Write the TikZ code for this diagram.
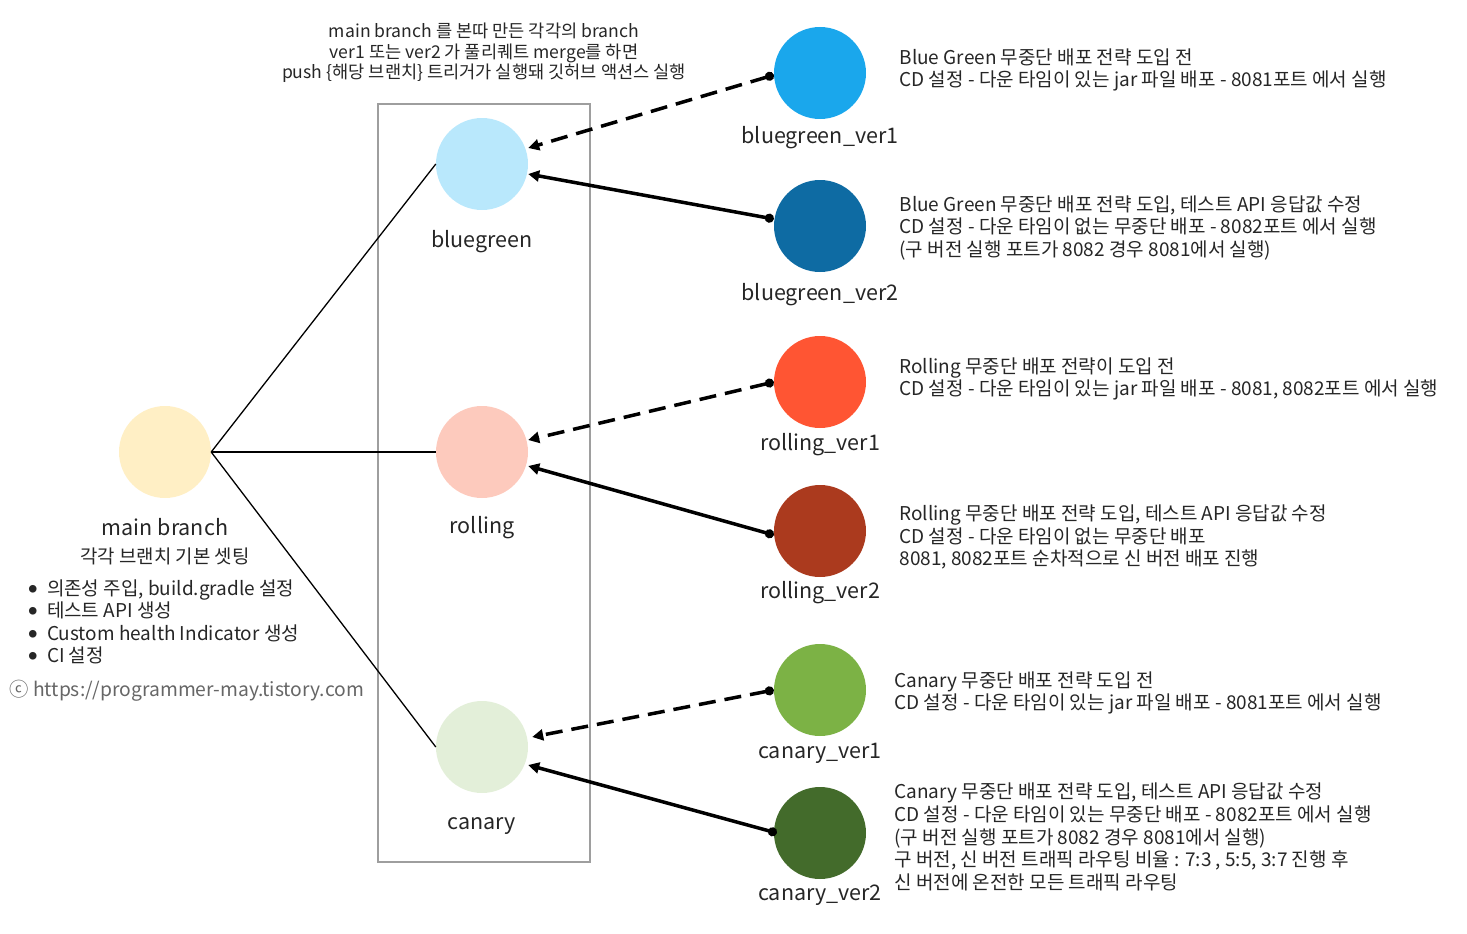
\documentclass[tikz,border=0pt]{standalone}
\usepackage{fontspec}
\setmainfont{Noto Sans CJK KR}
\usetikzlibrary{arrows.meta,positioning,calc}
\definecolor{mainfill}{HTML}{FFEFC5}
\definecolor{bgfill}{HTML}{B9E8FC}
\definecolor{rofill}{HTML}{FDCABD}
\definecolor{cafill}{HTML}{E3EFD9}
\definecolor{bgone}{HTML}{1AA7EC}
\definecolor{bgtwo}{HTML}{0E6BA3}
\definecolor{roone}{HTML}{FF5533}
\definecolor{rotwo}{HTML}{AB3A1E}
\definecolor{caone}{HTML}{7CB245}
\definecolor{catwo}{HTML}{436B2B}
\newcommand{\bigdot}{\raisebox{3pt}{\fontsize{8.5}{9}\selectfont ●}\hspace{10pt}}

\begin{document}
\begin{tikzpicture}[x=1pt,y=-1pt]
        \tikzset{
            brcircle/.style={circle, minimum size=92pt, inner sep=0pt},
            brlabel/.style={font=\fontsize{21.5}{25}\selectfont, text=black!85},
            brdesc/.style={anchor=west, align=left, text=black!85,
                font=\fontsize{19}{22.8}\selectfont},
            branchline/.style={line width=1.3pt},
            mergearrow/.style={line width=3.5pt,
                {Circle[length=9pt]}-{Triangle[length=11pt,width=11pt]}},
        }
        \useasboundingbox (0, 0) rectangle (1467, 934);

        % main branch
        \node[brcircle, fill=mainfill] (MB) at (165, 452) {};
        \node[brlabel] (MBl) at (165, 527) {main branch};
        \node[font=\fontsize{18.9}{22}\selectfont, text=black!85] (MBs) at (165, 556)
        {각각 브랜치 기본 셋팅};
        \node[anchor=west, align=left, text=black!85,
            font=\fontsize{19}{22.3}\selectfont] (MBi) at (25, 622)
        {\bigdot 의존성 주입, build.gradle 설정\\
         \bigdot 테스트 API 생성\\
         \bigdot Custom health Indicator 생성\\
         \bigdot CI 설정};
        \node[anchor=west, text=black!60, font=\fontsize{19.3}{22}\selectfont] (CR) at (6, 691)
        {ⓒ https://programmer-may.tistory.com};

        % strategy branches
        \node[draw=black!38, line width=2.5pt, minimum width=212pt, minimum height=758pt,
            inner sep=0pt] (BOX) at (484, 483) {};
        \node[font=\fontsize{17.6}{20.5}\selectfont, align=center, text=black!85] (NOTE) at (484, 53)
        {main branch 를 본따 만든 각각의 branch\\
         ver1 또는 ver2 가 풀리퀘트 merge를 하면\\
         push \{해당 브랜치\} 트리거가 실행돼 깃허브 액션스 실행};
        \node[brcircle, fill=bgfill] (BG) at (482, 164) {};
        \node[brlabel] (BGl) at (482, 242) {bluegreen};
        \node[brcircle, fill=rofill] (RO) at (482, 452) {};
        \node[brlabel] (ROl) at (482, 528) {rolling};
        \node[brcircle, fill=cafill] (CA) at (482, 747) {};
        \node[brlabel] (CAl) at (482, 826) {canary};

        % versions
        \node[brcircle, fill=bgone] (BG1) at (820, 73) {};
        \node[brlabel] (BG1l) at (820, 138) {bluegreen\_ver1};
        \node[brdesc] (BG1d) at (896, 70)
        {Blue Green 무중단 배포 전략 도입 전\\
         CD 설정 - 다운 타임이 있는 jar 파일 배포 - 8081포트 에서 실행};
        \node[brcircle, fill=bgtwo] (BG2) at (820, 226) {};
        \node[brlabel] (BG2l) at (820, 295) {bluegreen\_ver2};
        \node[brdesc] (BG2d) at (896, 228)
        {Blue Green 무중단 배포 전략 도입, 테스트 API 응답값 수정\\
         CD 설정 - 다운 타임이 없는 무중단 배포 - 8082포트 에서 실행\\
         (구 버전 실행 포트가 8082 경우 8081에서 실행)};

        \node[brcircle, fill=roone] (RO1) at (820, 382) {};
        \node[brlabel] (RO1l) at (820, 445) {rolling\_ver1};
        \node[brdesc] (RO1d) at (896, 379)
        {Rolling 무중단 배포 전략이 도입 전\\
         CD 설정 - 다운 타임이 있는 jar 파일 배포 - 8081, 8082포트 에서 실행};
        \node[brcircle, fill=rotwo] (RO2) at (820, 531) {};
        \node[brlabel] (RO2l) at (820, 593) {rolling\_ver2};
        \node[brdesc] (RO2d) at (896, 537)
        {Rolling 무중단 배포 전략 도입, 테스트 API 응답값 수정\\
         CD 설정 - 다운 타임이 없는 무중단 배포\\
         8081, 8082포트 순차적으로 신 버전 배포 진행};

        \node[brcircle, fill=caone] (CA1) at (820, 690) {};
        \node[brlabel] (CA1l) at (820, 753) {canary\_ver1};
        \node[brdesc] (CA1d) at (891, 693)
        {Canary 무중단 배포 전략 도입 전\\
         CD 설정 - 다운 타임이 있는 jar 파일 배포 - 8081포트 에서 실행};
        \node[brcircle, fill=catwo] (CA2) at (820, 833) {};
        \node[brlabel] (CA2l) at (820, 895) {canary\_ver2};
        \node[brdesc] (CA2d) at (891, 837)
        {Canary 무중단 배포 전략 도입, 테스트 API 응답값 수정\\
         CD 설정 - 다운 타임이 있는 무중단 배포 - 8082포트 에서 실행\\
         (구 버전 실행 포트가 8082 경우 8081에서 실행)\\
         구 버전, 신 버전 트래픽 라우팅 비율 : 7:3 , 5:5, 3:7 진행 후\\
         신 버전에 온전한 모든 트래픽 라우팅};

        \begin{scope}[branchline]
            \draw (MB.east) -- (BG.west);
            \draw (MB.east) -- (RO.west);
            \draw (MB.east) -- (CA.west);
        \end{scope}

        \begin{scope}[mergearrow]
            \draw[dash pattern=on 17pt off 9pt] ([yshift=-2pt]BG1.west) -- ([yshift=16pt]BG.east);
            \draw ([yshift=7pt]BG2.west) -- ([yshift=-10pt]BG.east);
            \draw[dash pattern=on 17pt off 9pt] (RO1.west) -- ([yshift=12pt]RO.east);
            \draw ([yshift=-4pt]RO2.west) -- ([yshift=-14pt]RO.east);
            \draw[dash pattern=on 17pt off 9pt] (CA1.west) -- ([xshift=4pt, yshift=10pt]CA.east);
            \draw ([xshift=3pt]CA2.west) -- ([yshift=-18pt]CA.east);
        \end{scope}
\end{tikzpicture}
\end{document}
